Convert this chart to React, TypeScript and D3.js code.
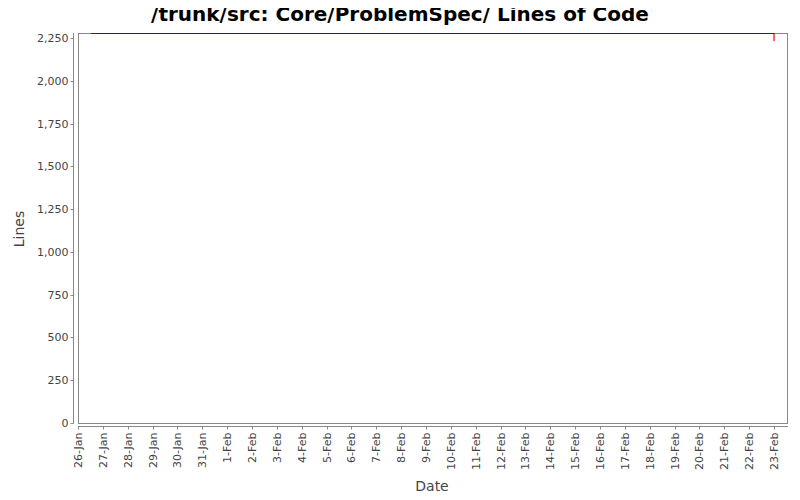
import React, { useEffect, useRef } from "react";
import * as d3 from "d3";

const title = "/trunk/src: Core/ProblemSpec/ Lines of Code";
const dates = ["2009-01-26T12:30:00", "2009-02-22T23:50:00", "2009-02-23T00:00:00"];
const lines = [2279, 2279, 2234];
const yTicks = [0, 250, 500, 750, 1000, 1250, 1500, 1750, 2000, 2250];
const xStart = "2009-01-26T00:00:00";
const xEnd = "2009-02-23T13:30:00";

const W = 800;
const H = 500;

export default function App() {
  const svgRef = useRef<SVGSVGElement>(null);

  useEffect(() => {
    if (!svgRef.current) return;
    const svg = d3.select(svgRef.current);
    svg.selectAll("*").remove();

    const left = 78, right = 788, top = 33, bottom = 423;
    const font = "DejaVu Sans, sans-serif";

    const x = d3.scaleTime()
      .domain([new Date(xStart), new Date(xEnd)])
      .range([left, right]);
    const y = d3.scaleLinear().domain([0, 2279]).range([bottom + 0.5, top + 0.5]);

    svg.append("rect").attr("width", W).attr("height", H).attr("fill", "#fff");

    // title
    svg.append("text")
      .attr("x", 400).attr("y", 21)
      .attr("text-anchor", "middle")
      .attr("font-family", font).attr("font-weight", "bold").attr("font-size", 20)
      .attr("fill", "#000")
      .text(title);

    svg.append("defs").append("clipPath").attr("id", "clip")
      .append("rect").attr("x", left).attr("y", top)
      .attr("width", right - left).attr("height", bottom - top);

    // data
    const data = dates.map((d, i) => ({ date: new Date(d), value: lines[i] }));
    const line = d3.line<{ date: Date; value: number }>()
      .x((d) => x(d.date))
      .y((d) => y(d.value))
      .curve(d3.curveStepAfter);
    svg.append("path")
      .datum(data)
      .attr("clip-path", "url(#clip)")
      .attr("fill", "none")
      .attr("stroke", "#ff0000")
      .attr("stroke-width", 1.2)
      .attr("d", line);

    // plot border (translucent, darkens the line where they overlap)
    svg.append("rect")
      .attr("x", left + 0.5).attr("y", top + 0.5)
      .attr("width", right - left - 1).attr("height", bottom - top)
      .attr("fill", "none").attr("stroke", "#000").attr("stroke-opacity", 0.47);

    // y axis
    const yAxis = svg.append("g").attr("transform", "translate(73.5,0)");
    yAxis.append("line").attr("x1", 0).attr("x2", 0).attr("y1", top).attr("y2", bottom + 0.5)
      .attr("stroke", "#888");
    yTicks.forEach((t) => {
      const yy = Math.round(y(t) - 0.5) + 0.5;
      yAxis.append("line").attr("x1", -3).attr("x2", 0).attr("y1", yy).attr("y2", yy).attr("stroke", "#888");
      yAxis.append("text")
        .attr("x", -5).attr("y", yy).attr("dy", "0.35em")
        .attr("text-anchor", "end")
        .attr("font-family", font).attr("font-size", 11).attr("fill", "#444")
        .text(d3.format(",")(t));
    });

    // x axis
    const xTicks = d3.timeDay.range(new Date(xStart), new Date(xEnd));
    const xAxis = svg.append("g").attr("transform", "translate(0,426.5)");
    xAxis.append("line").attr("x1", left).attr("x2", right).attr("y1", 0).attr("y2", 0).attr("stroke", "#888");
    xTicks.forEach((d) => {
      const xx = Math.round(x(d)) + 0.5;
      xAxis.append("line").attr("x1", xx).attr("x2", xx).attr("y1", 0).attr("y2", 3).attr("stroke", "#888");
      xAxis.append("text")
        .attr("transform", `translate(${xx},6) rotate(-90)`)
        .attr("dy", "0.35em")
        .attr("text-anchor", "end")
        .attr("font-family", font).attr("font-size", 11).attr("fill", "#444")
        .text(d3.timeFormat("%-d-%b")(d));
    });

    // axis labels
    svg.append("text")
      .attr("x", 432).attr("y", 491)
      .attr("text-anchor", "middle")
      .attr("font-family", font).attr("font-size", 14).attr("fill", "#444")
      .text("Date");
    svg.append("text")
      .attr("transform", "translate(24,229) rotate(-90)")
      .attr("text-anchor", "middle")
      .attr("font-family", font).attr("font-size", 14).attr("fill", "#444")
      .text("Lines");
  }, []);

  return <svg ref={svgRef} width={W} height={H} style={{ display: "block", margin: -8 }} />;
}
